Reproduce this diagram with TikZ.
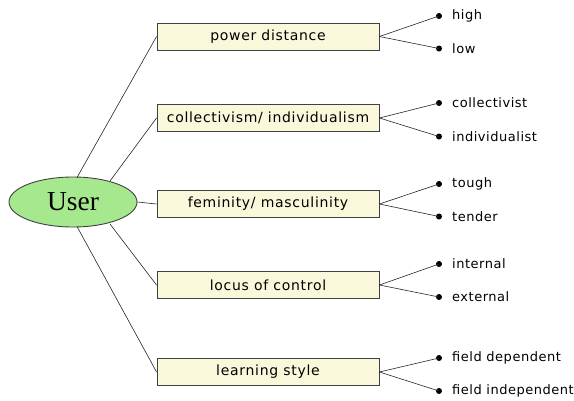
\documentclass[tikz,border=0pt]{standalone}
\usepackage{fontspec}
\setmainfont{DejaVu Sans}
\newfontfamily\serifface{Liberation Serif}
\newfontfamily\boxface[LetterSpace=5]{DejaVu Sans}
\newfontfamily\leafface[LetterSpace=4]{DejaVu Sans}
\usetikzlibrary{shapes.geometric}
\definecolor{boxfill}{HTML}{FAF8DA}
\definecolor{userfill}{HTML}{A6E88E}
\definecolor{edge}{HTML}{404040}
\tikzset{
  topicbox/.style={draw=edge, fill=boxfill, line width=0.9pt, minimum width=222pt,
    minimum height=27pt, inner sep=0pt, font=\boxface\fontsize{14}{16}\selectfont},
  usernode/.style={ellipse, draw=edge, fill=userfill, line width=0.9pt,
    minimum width=128pt, minimum height=50pt, inner sep=0pt,
    font=\serifface\fontsize{27.5}{30}\selectfont},
  leaf/.style={circle, fill=black, inner sep=0pt, minimum size=6pt},
  leaftext/.style={anchor=west, inner sep=0pt, font=\leafface\fontsize{13}{15}\selectfont},
  link/.style={draw=black!85, line width=0.6pt}
}
\begin{document}
\begin{tikzpicture}[x=1pt, y=-1pt]
  \useasboundingbox (0,0) rectangle (574,400);

  \node[usernode] (U) at (73,202) {User};

  \node[topicbox] (B1) at (268,36.5) {power distance};
  \node[topicbox] (B2) at (268,118) {collectivism/ individualism};
  \node[topicbox] (B3) at (268,204) {feminity/ masculinity};
  \node[topicbox] (B4) at (268,285) {locus of control};
  \node[topicbox] (B5) at (268,372) {learning style};

  % branches from the user node to the topics
  \coordinate (U1) at (77,177.5);
  \coordinate (U2) at (110,181);
  \coordinate (U4) at (110,224);
  \coordinate (U5) at (77,226.5);
  \draw[link] (U1) -- (B1.west);
  \draw[link] (U2) -- (B2.west);
  \draw[link] (U.east) -- (B3.west);
  \draw[link] (U4) -- (B4.west);
  \draw[link] (U5) -- (B5.west);

  % leaves of each topic
  \foreach \b/\ya/\yb/\ta/\tb in {
      B1/16/48.5/high/low,
      B2/103/136.5/collectivist/individualist,
      B3/184/216.5/tough/tender,
      B4/264/297/internal/external,
      B5/358/391/field dependent/field independent} {
    \node[leaf] (\b a) at (439,\ya) {};
    \node[leaf] (\b b) at (439,\yb) {};
    \node[leaftext] (\b ta) at (452,\ya) {\ta};
    \node[leaftext] (\b tb) at (452,\yb) {\tb};
    \draw[link] (\b.east) -- (\b a.center);
    \draw[link] (\b.east) -- (\b b.center);
  }
\end{tikzpicture}
\end{document}
